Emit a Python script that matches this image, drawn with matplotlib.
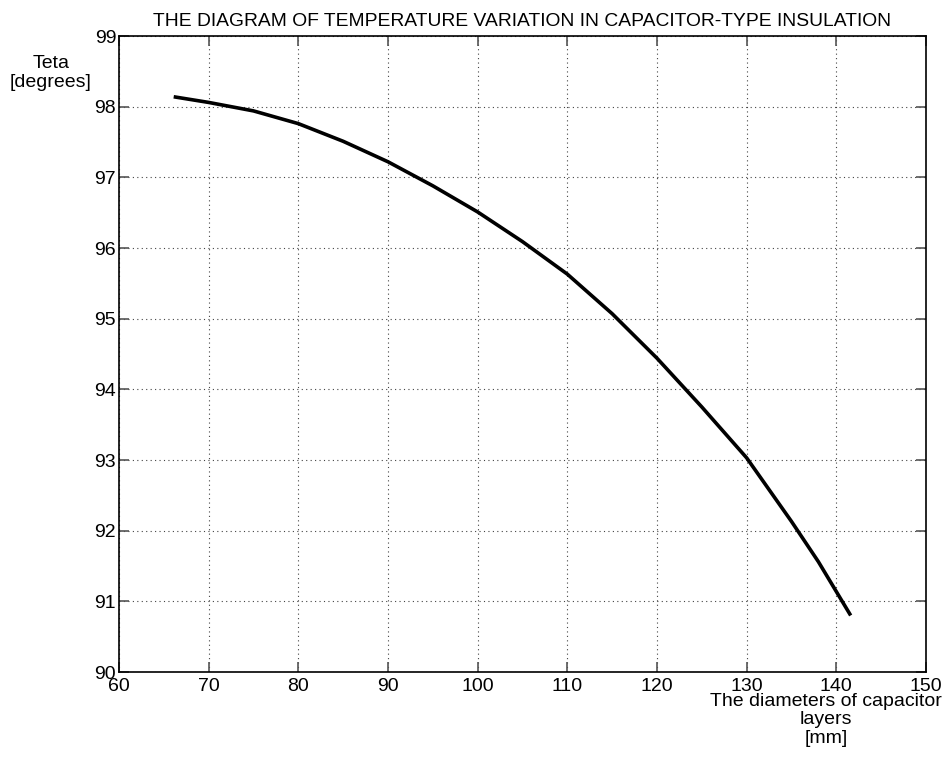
import matplotlib
matplotlib.use('Agg')
import matplotlib.pyplot as plt

# diameters of capacitor layers [mm] and temperature [degrees]
diam = [66.1, 70, 75, 80, 85, 90, 95, 100, 105, 110, 115, 120, 125, 130, 135, 138, 141.6]
teta = [98.14, 98.06, 97.94, 97.76, 97.51, 97.22, 96.88, 96.51, 96.09, 95.63, 95.07,
        94.44, 93.75, 93.03, 92.13, 91.56, 90.8]

x_ticks = [60, 70, 80, 90, 100, 110, 120, 130, 140, 150]
y_ticks = [90, 91, 92, 93, 94, 95, 96, 97, 98, 99]

plt.rcParams['font.family'] = ['Liberation Sans', 'DejaVu Sans']

fig = plt.figure(figsize=(9.42, 7.57), dpi=100)
ax = fig.add_axes([119 / 942, 1 - 672 / 757, (926 - 119) / 942, (672 - 36) / 757])

ax.plot(diam, teta, color='black', lw=2.6, solid_capstyle='butt', solid_joinstyle='round')

ax.set_xlim(60, 150)
ax.set_ylim(90, 99)
ax.set_xticks(x_ticks)
ax.set_yticks(y_ticks)
ax.tick_params(direction='in', length=7, width=1.2, color='#555555',
               top=True, right=True, labelsize=14, pad=2)
ax.tick_params(axis='x', pad=4)
ax.grid(True, linestyle=(0, (1, 3)), color='#444444', lw=0.8)
for s in ax.spines.values():
    s.set_linewidth(1.2)

ax.set_title('THE DIAGRAM OF TEMPERATURE VARIATION IN CAPACITOR-TYPE INSULATION',
             fontsize=13.9, pad=7)
fig.text(51 / 942, 1 - 73 / 757, 'Teta\n[degrees]', ha='center', va='center',
         fontsize=14, linespacing=1.2)
fig.text(826 / 942, 1 - 720 / 757, 'The diameters of capacitor\nlayers\n[mm]',
         ha='center', va='center', fontsize=14, linespacing=1.1)

fig.savefig('out.png', dpi=100)
